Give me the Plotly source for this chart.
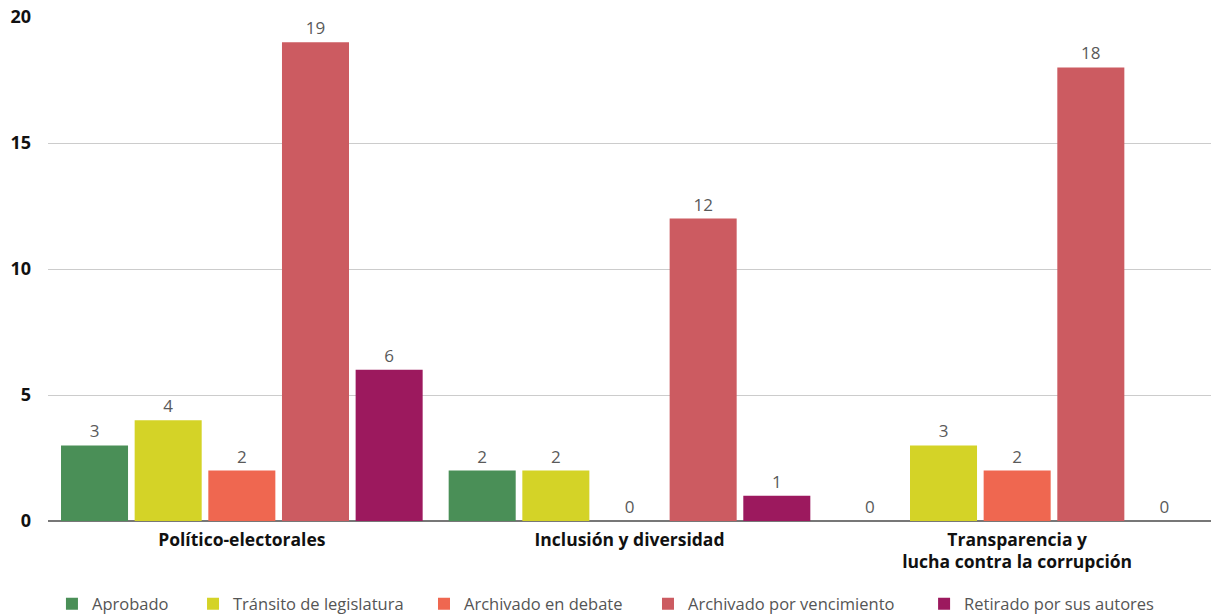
import plotly.graph_objects as go

categories = ["Político-electorales", "Inclusión y diversidad", "Transparencia y<br>lucha contra la corrupción"]
series_names = ["Aprobado", "Tránsito de legislatura", "Archivado en debate", "Archivado por vencimiento", "Retirado por sus autores"]
aprobado = [3, 2, 0]
transito = [4, 2, 3]
archivado_debate = [2, 0, 2]
archivado_venc = [19, 12, 18]
retirado = [6, 1, 0]
colors = ["#4a8f57", "#d4d327", "#ef6750", "#cc5b61", "#9c195e"]
y_ticks = [0, 5, 10, 15, 20]

values = [aprobado, transito, archivado_debate, archivado_venc, retirado]
legend_x = [0.0034, 0.1247, 0.3233, 0.5159, 0.7533]
legend_ids = ["legend", "legend2", "legend3", "legend4", "legend5"]

fig = go.Figure()
for name, vals, col, lid in zip(series_names, values, colors, legend_ids):
    fig.add_trace(go.Bar(
        x=categories, y=vals, name=name, legend=lid,
        marker=dict(color=col, line=dict(width=0)),
        text=[str(v) for v in vals], textposition="outside",
        textfont=dict(family="Open Sans", size=17, color="#5a5a5a"),
        cliponaxis=False,
    ))

legend_layout = {}
for lid, lx in zip(legend_ids, legend_x):
    legend_layout[lid] = dict(orientation="h", x=lx, xanchor="left",
                              yref="container", y=12 / 616, yanchor="middle",
                              font=dict(family="Open Sans", size=16.5, color="#555555"),
                              bgcolor="rgba(0,0,0,0)")

fig.update_layout(
    width=1211, height=616,
    margin=dict(l=48, r=0, t=17, b=95),
    paper_bgcolor="white", plot_bgcolor="white",
    barmode="group", bargap=0.05, bargroupgap=0.09,
    font=dict(family="Open Sans", color="#111111"),
    showlegend=True,
    xaxis=dict(showgrid=False, tickfont=dict(family="Open Sans", size=17.5, color="#111111", weight="bold"),
               ticks="", showline=False, ticklabelstandoff=6, automargin=False),
    yaxis=dict(range=[0, 20], tickvals=y_ticks, showgrid=True, gridcolor="#cccccc", gridwidth=1,
               zeroline=True, zerolinecolor="#777777", zerolinewidth=2,
               tickfont=dict(family="Open Sans", size=18, color="#111111", weight="bold"),
               ticklabelstandoff=16, showline=False, automargin=False),
    **legend_layout,
)

fig.write_html("out.html", config={"displayModeBar": False},
               post_script="document.body.style.margin='0';document.body.style.overflow='hidden';")
